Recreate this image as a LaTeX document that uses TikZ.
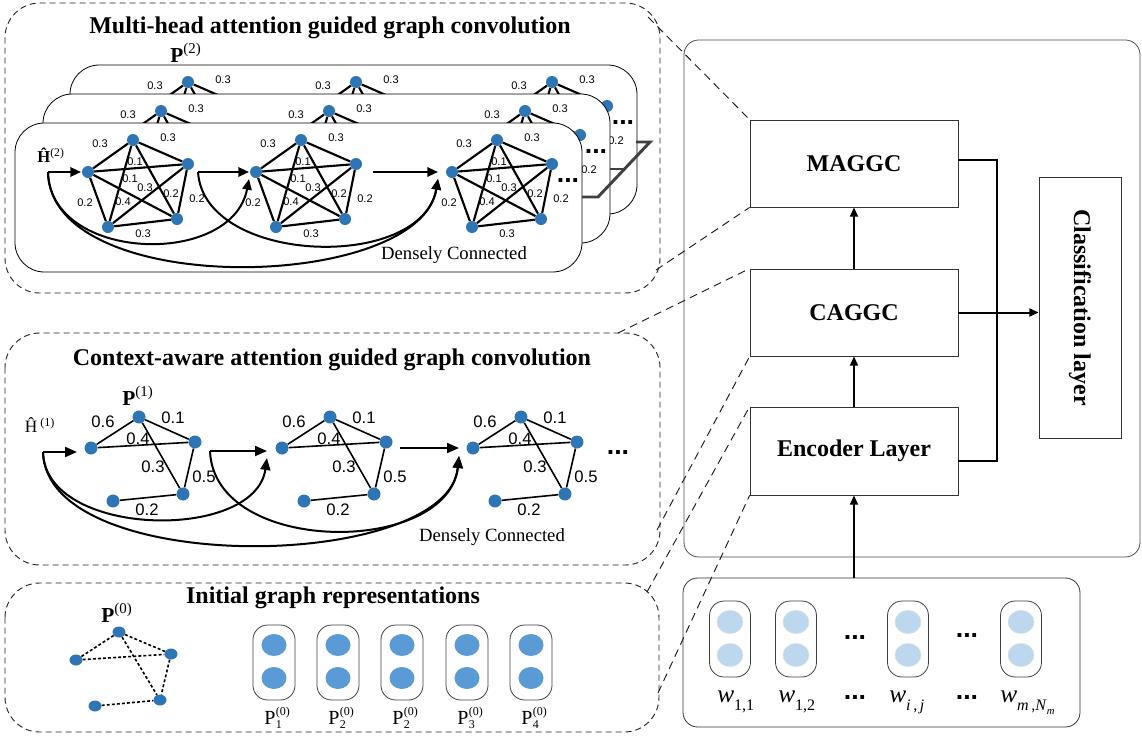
\documentclass[tikz,border=0pt]{standalone}
\usepackage{fontspec}
\setmainfont{Liberation Serif}
\setsansfont{Liberation Sans}
\usetikzlibrary{arrows.meta,shapes.geometric}
\definecolor{nblue}{HTML}{2E75B6}
\definecolor{pblue}{HTML}{5B9BD5}
\definecolor{lblue}{HTML}{BDD7EE}

% fully connected graph of the multi-head section: nodes, edges, top labels
\newcommand{\magraph}[2]{%
\begin{scope}[shift={(#2,0)}]
\node[vtxa] (#1a) at (133,140) {};
\node[vtxa] (#1b) at (88,172) {};
\node[vtxa] (#1c) at (188,164) {};
\node[vtxa] (#1d) at (108,227) {};
\node[vtxa] (#1e) at (177,219) {};
\draw[gea] (#1a)--(#1b) (#1a)--(#1c) (#1a)--(#1d) (#1a)--(#1e) (#1b)--(#1c)
 (#1b)--(#1d) (#1b)--(#1e) (#1c)--(#1d) (#1c)--(#1e) (#1d)--(#1e);
\node[laba] (#1l1) at (100,144) {0.3};
\node[laba] (#1l2) at (168,138) {0.3};
\end{scope}}
% the right-edge label
\newcommand{\maright}[2]{%
\begin{scope}[shift={(#2,0)}]
\node[laba] (#1l7) at (197,199) {0.2};
\end{scope}}
% the inner labels (front card only)
\newcommand{\mainner}[2]{%
\begin{scope}[shift={(#2,0)}]
\node[laba] (#1l3) at (135,162) {0.1};
\node[laba] (#1l4) at (130,179) {0.1};
\node[laba] (#1l5) at (145,188) {0.3};
\node[laba] (#1l6) at (171,194) {0.2};
\node[laba] (#1l8) at (85,203) {0.2};
\node[laba] (#1l9) at (123,202) {0.4};
\node[laba] (#1l10) at (143,234) {0.3};
\end{scope}}

% one card (layer) of the multi-head section
\newcommand{\macard}[3]{%
\begin{scope}[shift={(#2,#3)}]
\magraph{#1x}{0}
\magraph{#1y}{168}
\magraph{#1z}{364}
\maright{#1z}{364}
\coordinate (#1s1) at (48,172); \coordinate (#1t1) at (81,172);
\coordinate (#1s2) at (198,172); \coordinate (#1t2) at (249,172);
\coordinate (#1s3) at (373,172); \coordinate (#1t3) at (438,172);
\coordinate (#1u2) at (249,179); \coordinate (#1u3) at (438,179);
\draw[arra] (#1s1) -- (#1t1);
\draw[arra] (#1s2) -- (#1t2);
\draw[arra] (#1s3) -- (#1t3);
\draw[arra] (#1s1) .. controls (50,262) and (232,268) .. (#1u2);
\draw[arra] (#1s1) .. controls (50,300) and (420,292) .. (#1u3);
\draw[arra] (#1s2) .. controls (204,265) and (422,272) .. (#1u3);
\node[dotsa] (#1dt) at (568,181) {...};
\end{scope}}

% one graph of the context-aware section
\newcommand{\cagraph}[2]{%
\begin{scope}[shift={(#2,0)}]
\node[vtxb] (#1a) at (139,417) {};
\node[vtxb] (#1b) at (91,448) {};
\node[vtxb] (#1c) at (195,442) {};
\node[vtxb] (#1d) at (113,501) {};
\node[vtxb] (#1e) at (183,494) {};
\draw[geb] (#1b)--(#1a) (#1a)--(#1c) (#1b)--(#1c) (#1a)--(#1e) (#1c)--(#1e) (#1d)--(#1e);
\node[labb] (#1l1) at (103,422) {0.6};
\node[labb] (#1l2) at (173,418) {0.1};
\node[labb] (#1l3) at (138,439) {0.4};
\node[labb] (#1l4) at (153,467) {0.3};
\node[labb] (#1l5) at (204,477) {0.5};
\node[labb] (#1l6) at (147,510) {0.2};
\end{scope}}

\newcommand{\wlabel}[1]{\textit{w}\raisebox{-6.5pt}{\fontsize{12}{12}\selectfont #1}}

\begin{document}
\begin{tikzpicture}[x=0.75pt,y=-0.75pt,
 bigbox/.style={draw=black!85, line width=0.7pt, dash pattern=on 4.5pt off 3pt, rounded corners=26pt},
 card/.style={draw=black, fill=white, line width=0.6pt, rounded corners=22pt},
 vtxa/.style={circle, fill=nblue, inner sep=0pt, minimum size=9pt},
 vtxb/.style={circle, fill=nblue, inner sep=0pt, minimum size=9.75pt},
 vtxc/.style={ellipse, fill=nblue, inner sep=0pt, minimum width=9.75pt, minimum height=8.25pt},
 gea/.style={line width=1.6pt},
 geb/.style={line width=1.2pt},
 gec/.style={line width=1.2pt, dash pattern=on 2.2pt off 1.6pt},
 laba/.style={font=\sffamily\fontsize{8.3}{9}\selectfont, inner sep=0pt},
 labb/.style={font=\sffamily\fontsize{12.5}{14}\selectfont, inner sep=0pt},
 hlaba/.style={font=\bfseries\fontsize{12.5}{13}\selectfont, anchor=base, inner sep=0pt},
 hlabb/.style={font=\fontsize{13}{14}\selectfont, anchor=base, inner sep=0pt},
 plab/.style={font=\fontsize{16}{18}\selectfont, anchor=base, inner sep=0pt},
 arra/.style={line width=1.5pt, -{Triangle[length=8pt,width=7pt]}},
 arrb/.style={line width=1.5pt, -{Triangle[length=9pt,width=7.5pt]}},
 ttl/.style={font=\bfseries\fontsize{18}{20}\selectfont, anchor=base, inner sep=0pt},
 blk/.style={draw=black!80, line width=0.6pt, font=\bfseries\fontsize{18}{20}\selectfont, minimum width=156pt, minimum height=65.25pt, inner sep=0pt},
 dens/.style={font=\fontsize{14}{16}\selectfont, anchor=base, inner sep=0pt},
 dotsa/.style={font=\sffamily\bfseries\fontsize{20}{20}\selectfont, inner sep=0pt},
 pill/.style={draw=black!75, line width=0.6pt, rounded corners=11pt, minimum width=31.5pt, minimum height=56.25pt, inner sep=0pt},
 pdot/.style={ellipse, fill=pblue, inner sep=0pt, minimum width=18.75pt, minimum height=16.5pt},
 wdot/.style={ellipse, fill=lblue, draw=black!12, inner sep=0pt, minimum width=19.5pt, minimum height=17.5pt},
 sublab/.style={font=\fontsize{15}{18}\selectfont, anchor=base west, inner sep=0pt},
 tinylab/.style={font=\fontsize{9}{9}\selectfont, anchor=base west, inner sep=0pt},
 wlab/.style={font=\fontsize{19}{20}\selectfont, anchor=base west, inner sep=0pt},
 conn/.style={line width=1.5pt},
 conna/.style={line width=1.5pt, -{Triangle[length=7pt,width=6pt]}},
 dconn/.style={draw=black!90, line width=0.7pt, dash pattern=on 6pt off 4pt}
]
\useasboundingbox (0,0) rectangle (1142,739);

% ---------- left dashed frames ----------
\draw[bigbox] (5,3) rectangle (660,293);
\draw[bigbox] (5,333) rectangle (660,565);
\draw[bigbox] (5,583) rectangle (659,732);
\coordinate (b1tr) at (648,17);
\coordinate (b1br) at (656,270);
\coordinate (b2t) at (618,333);
\coordinate (b2r) at (657,530);
\coordinate (b3tr) at (647,592);
\coordinate (b3r) at (658,693);

\node[ttl] (t1) at (330,33) {Multi-head attention guided graph convolution};
\node[ttl] (t2) at (332,365) {Context-aware attention guided graph convolution};
\node[ttl] (t3) at (333,603) {Initial graph representations};

% ---------- multi-head section: stacked cards ----------
\draw[card] (70,65) rectangle (637,214);
\begin{scope}
\clip[rounded corners=22pt] (70,65) rectangle (637,214);
\macard{k3}{55}{-58}
\end{scope}
\draw[card] (43,94) rectangle (610,243);
\begin{scope}
\clip[rounded corners=22pt] (43,94) rectangle (610,243);
\macard{k2}{28}{-29}
\end{scope}
\draw[card] (15,123) rectangle (582,272);
\macard{k1}{0}{0}
\maright{k1x}{0}
\maright{k1y}{168}
\mainner{k1x}{0}
\mainner{k1y}{168}
\mainner{k1z}{364}
\node[hlaba] (h2) at (51,162) {Ĥ\textsuperscript{\normalfont(2)}};
\node[dens] (kdc) at (454,259) {Densely Connected};

\draw[line width=2.2pt, draw=black!75] (582,197) -- (598,197) -- (650,142) -- (636,142);
\draw[line width=2.2pt, draw=black!75] (610,169) -- (624,169);

\node[plab] (p2) at (186,62) {\textbf{P}\textsuperscript{(2)}};

% ---------- context-aware section ----------
\cagraph{ca}{0}
\cagraph{cb}{191}
\cagraph{cc}{382}
\node[plab] (p1) at (138,405) {\textbf{P}\textsuperscript{(1)}};
\node[hlabb] (h1) at (40,432) {Ĥ\,\textsuperscript{(1)}};
\coordinate (cs1) at (43,452); \coordinate (ct1) at (77,452);
\coordinate (cs2) at (210,451); \coordinate (ct2) at (267,451);
\coordinate (cs3) at (400,448); \coordinate (ct3) at (459,448);
\coordinate (cu2) at (267,458); \coordinate (cu3) at (459,456);
\draw[arrb] (cs1) -- (ct1);
\draw[arrb] (cs2) -- (ct2);
\draw[arrb] (cs3) -- (ct3);
\draw[arrb] (cs1) .. controls (45,538) and (255,542) .. (cu2);
\draw[arrb] (cs1) .. controls (46,578) and (448,572) .. (cu3);
\draw[arrb] (cs2) .. controls (214,556) and (448,556) .. (cu3);
\node[dotsa] (cdots) at (618,453) {...};
\node[dens] (cdc) at (492,541) {Densely Connected};

% ---------- initial graph section ----------
\node[plab] (p0) at (117,622) {\textbf{P}\textsuperscript{(0)}};
\node[vtxc] (ia) at (119,632) {};
\node[vtxc] (ib) at (76,660) {};
\node[vtxc] (ic) at (171,654) {};
\node[vtxc] (id) at (95,706) {};
\node[vtxc] (ie) at (160,700) {};
\draw[gec] (ia)--(ib) (ia)--(ic) (ib)--(ic) (ia)--(ie) (ic)--(ie) (id)--(ie);
\foreach \i/\x/\s in {1/274/1,2/338/2,3/402/2,4/467/3,5/531/4} {
 \node[pill] (pp\i) at (\x,662.5) {};
 \node[pdot] (ppa\i) at (\x,645) {};
 \node[pdot] (ppb\i) at (\x,678) {};
 \node[sublab] (pl\i) at (\x-10,724) {P};
 \node[tinylab] (pu\i) at ([yshift=6.5pt]pl\i.base east) {(0)};
 \node[tinylab] (pd\i) at ([yshift=-3pt]pl\i.base east) {\s};
}

% ---------- right side ----------
\node[draw=black!70, line width=0.6pt, rounded corners=11pt, minimum width=342pt, minimum height=387.75pt, inner sep=0pt] (panel) at (912,298.5) {};
\node[blk] (mag) at (854,163.5) {MAGGC};
\node[blk] (cag) at (854,312.5) {CAGGC};
\node[blk, minimum height=66pt] (enc) at (854,451) {Encoder Layer};
\node[blk, minimum width=61.5pt, minimum height=195.75pt] (cls) at (1080,307.5) {};
\node[font=\bfseries\fontsize{18}{20}\selectfont, rotate=-90, inner sep=0pt] (clst) at (cls.center) {Classification layer};

\node[draw=black!80, line width=0.6pt, rounded corners=11pt, minimum width=297.75pt, minimum height=111.75pt, inner sep=0pt] (wbox) at (881.5,652.5) {};
\foreach \i/\x in {1/730,2/796,3/908,4/1021} {
 \node[pill, minimum width=30.75pt, minimum height=57pt] (wp\i) at (\x,639) {};
 \node[wdot] (wa\i) at (\x,622) {};
 \node[wdot] (wb\i) at (\x,655) {};
}
\node[dotsa] (wd1) at (855,638) {...};
\node[dotsa] (wd2) at (967,636) {...};
\node[dotsa] (wd3) at (855,698) {...};
\node[dotsa] (wd4) at (967,698) {...};
\node[wlab] (wl1) at (717,702) {\wlabel{1,1}};
\node[wlab] (wl2) at (778,702) {\wlabel{1,2}};
\node[wlab] (wl3) at (889,702) {\wlabel{\textit{i}\,,\,\textit{j}}};
\node[wlab] (wl4) at (1000,702) {\wlabel{\textit{m}\,,\textit{N}\raisebox{-2.5pt}{\fontsize{8}{8}\selectfont\textit{m}}}};

\coordinate (jx) at (997,0);
\coordinate (magr) at ([yshift=2.6pt]mag.east);
\coordinate (encr) at ([yshift=-7.5pt]enc.east);
\draw[conn] (magr) -- (magr -| jx) -- (encr -| jx) -- (encr);
\draw[conna] (cag.east) -- (cag.east -| cls.west);
\draw[conna] (enc.north) -- (cag.south);
\draw[conna] (cag.north) -- (mag.south);
\draw[conna] (enc.south |- wbox.north) -- (enc.south);

% ---------- dashed zoom connectors ----------
\draw[dconn] (b1tr) -- (mag.north west);
\draw[dconn] (b1br) -- (mag.south west);
\draw[dconn] (b2t) -- (cag.north west);
\draw[dconn] (b2r) -- (cag.south west);
\draw[dconn] (b3tr) -- (enc.north west);
\draw[dconn] (b3r) -- (enc.south west);
\end{tikzpicture}
\end{document}
